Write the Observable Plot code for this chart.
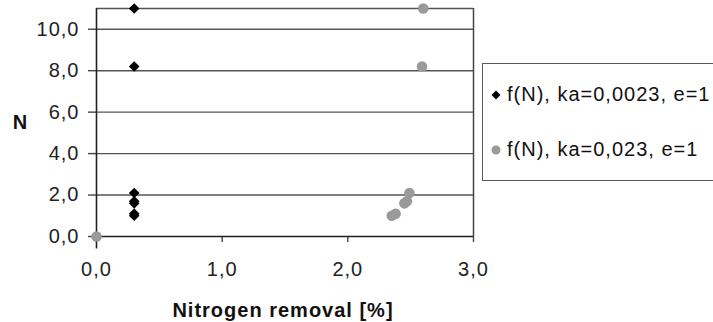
<!DOCTYPE html>
<html>
<head>
<meta charset="utf-8">
<script src="https://cdn.jsdelivr.net/npm/d3@7"></script>
<script src="https://cdn.jsdelivr.net/npm/@observablehq/plot@0.6"></script>
<style>
  html, body { margin: 0; padding: 0; background: #fff; overflow: hidden; }
  #wrap { position: relative; width: 713px; height: 322px; font-family: "Liberation Sans", Arial, sans-serif; }
  #legend { position: absolute; left: 482px; top: 63px; width: 260px; height: 118px; border: 1.5px solid #5a5a5a; background: #fff; box-sizing: border-box; }
  .entry { position: absolute; left: 7px; font-size: 20px; letter-spacing: 1px; color: #111; display: flex; align-items: center; white-space: nowrap; }
  .entry svg { margin-right: 5px; }
</style>
</head>
<body>
<div id="wrap"></div>
<script>
// Data
const xTicks = [0, 1, 2, 3];
const yTicks = [0, 2, 4, 6, 8, 10];
const gridY = [2, 4, 6, 8, 10, 11];
const seriesNames = ["f(N), ka=0,0023, e=1", "f(N), ka=0,023, e=1"];
const blackX = [0, 0.3, 0.3, 0.3, 0.3, 0.3, 0.3, 0.3];
const blackY = [0, 1.0, 1.1, 1.6, 1.7, 2.1, 8.2, 11.0];
const grayX = [0, 2.35, 2.38, 2.45, 2.47, 2.49, 2.59, 2.60];
const grayY = [0, 1.0, 1.1, 1.6, 1.7, 2.1, 8.2, 11.0];

const black = blackX.map((x, i) => ({x, y: blackY[i]}));
const gray = grayX.map((x, i) => ({x, y: grayY[i]}));
const fmt = d => d3.format(".1f")(d).replace(".", ",");

const chart = Plot.plot({
  width: 713,
  height: 322,
  marginLeft: 96,
  marginRight: 240,
  marginTop: 8,
  marginBottom: 86,
  style: {fontFamily: "'Liberation Sans', Arial, sans-serif", fontSize: "20px", letterSpacing: "1px", color: "#222", background: "#fff", overflow: "visible"},
  x: {domain: [0, 3]},
  y: {domain: [0, 11]},
  marks: [
    Plot.ruleY(gridY, {stroke: "#555", strokeWidth: 1.4}),
    Plot.ruleX([3], {stroke: "#444", strokeWidth: 1.5}),
    Plot.axisY({ticks: yTicks, tickFormat: fmt, tickSize: 8, tickPadding: 9, label: null, stroke: "#444", strokeWidth: 1.4, strokeOpacity: 1}),
    Plot.axisX({ticks: xTicks, tickFormat: fmt, tickSize: 6, tickPadding: 19, label: null, stroke: "#444", strokeWidth: 1.4, strokeOpacity: 1}),
    Plot.ruleY([0], {stroke: "#222", strokeWidth: 1.6}),
    Plot.ruleX([0], {stroke: "#222", strokeWidth: 1.6, y1: -0.6, y2: 11}),
    Plot.dot(black, {x: "x", y: "y", symbol: "diamond2", r: 4.8, fill: "#000", stroke: "none"}),
    Plot.dot(gray, {x: "x", y: "y", symbol: "circle", r: 5.3, fill: "#9a9a9a", stroke: "none"}),
    Plot.text(["N"], {frameAnchor: "left", dx: -76, text: d => d, textAnchor: "middle", fontWeight: "bold", fontSize: 20, fill: "#111"}),
    Plot.text(["Nitrogen removal [%]"], {frameAnchor: "bottom", dy: 74, dx: -2, text: d => d, textAnchor: "middle", lineAnchor: "middle", fontWeight: "bold", fontSize: 20, fill: "#111"})
  ]
});

const wrap = document.getElementById("wrap");
wrap.appendChild(chart);

const legend = document.createElement("div");
legend.id = "legend";
const e1 = document.createElement("div");
e1.className = "entry";
e1.style.top = "19px";
e1.innerHTML = `<svg width="12" height="12" viewBox="-6 -6 12 12"><path d="M0,-4.5L4.5,0L0,4.5L-4.5,0Z" fill="#000"/></svg><span></span>`;
e1.querySelector("span").textContent = seriesNames[0];
const e2 = document.createElement("div");
e2.className = "entry";
e2.style.top = "74px";
e2.innerHTML = `<svg width="12" height="12" viewBox="-6 -6 12 12"><circle r="4.5" fill="#9a9a9a"/></svg><span></span>`;
e2.querySelector("span").textContent = seriesNames[1];
legend.appendChild(e1);
legend.appendChild(e2);
wrap.appendChild(legend);
</script>
</body>
</html>
